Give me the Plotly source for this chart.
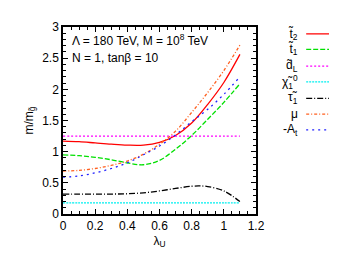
import plotly.graph_objects as go

lam = [0.0, 0.1, 0.2, 0.3, 0.4, 0.5, 0.6, 0.7, 0.8, 0.9, 1.0, 1.1]
stop2 = [1.17, 1.16, 1.14, 1.12, 1.105, 1.105, 1.15, 1.26, 1.46, 1.76, 2.11, 2.56]
stop1 = [0.95, 0.935, 0.91, 0.87, 0.82, 0.79, 0.86, 1.04, 1.26, 1.52, 1.79, 2.09]
dL = [1.25] * 12
chi1 = [0.18] * 12
mu = [0.69, 0.70, 0.73, 0.78, 0.85, 0.96, 1.12, 1.33, 1.63, 1.95, 2.30, 2.71]
mAt = [0.59, 0.61, 0.66, 0.73, 0.82, 0.95, 1.09, 1.27, 1.48, 1.68, 1.92, 2.20]
lam_tau = [0.0, 0.1, 0.2, 0.3, 0.4, 0.5, 0.6, 0.7, 0.8, 0.85, 0.9, 1.0, 1.1]
stau1 = [0.32, 0.32, 0.32, 0.32, 0.325, 0.34, 0.37, 0.41, 0.445, 0.45, 0.44, 0.37, 0.20]

labels = ["t̃<sub>2</sub>", "t̃<sub>1</sub>", "d̃<sub>L</sub>", "χ̃<sub>1</sub><sup>0</sup>",
          "τ̃<sub>1</sub>", "μ", "-A<sub>t</sub>"]

series = [
    (lam, stop2, "#ff0000", "solid"),
    (lam, stop1, "#00e000", "5px,2px"),
    (lam, dL, "#ff00ff", "2px,2px"),
    (lam, chi1, "#00f0f0", "2px,1px"),
    (lam_tau, stau1, "#000000", "6px,2px,1px,2px"),
    (lam, mu, "#ff6020", "3px,2px,1px,2px"),
    (lam, mAt, "#2020ff", "2px,4px"),
]

fig = go.Figure()
for (x, y, c, d), name in zip(series, labels):
    fig.add_trace(go.Scatter(x=x, y=y, mode="lines", name=name, showlegend=False,
                             line=dict(color=c, dash=d, width=1.3, shape="spline")))

font = dict(family="Liberation Sans, Arial, sans-serif", size=12, color="black")

leg_y = [0.963, 0.880, 0.791, 0.707, 0.618, 0.534, 0.450]
for (x, y, c, d), name, yy in zip(series, labels, leg_y):
    fig.add_annotation(text=name, xref="paper", yref="paper", x=1.23, y=yy,
                       xanchor="right", yanchor="middle", showarrow=False, font=font)
    fig.add_shape(type="line", xref="paper", yref="paper", x0=1.26, x1=1.43, y0=yy, y1=yy,
                  line=dict(color=c, dash=d, width=1.3))

fig.add_annotation(text="Λ = 180 TeV, M = 10<sup>8</sup> TeV", xref="paper", yref="paper",
                   x=0.035, y=0.93, xanchor="left", yanchor="middle", showarrow=False, font=font)
fig.add_annotation(text="N = 1, tanβ = 10", xref="paper", yref="paper",
                   x=0.035, y=0.835, xanchor="left", yanchor="middle", showarrow=False, font=font)

axis_common = dict(showline=True, linecolor="black", linewidth=1.5, mirror="ticks",
                   ticks="inside", ticklen=5, tickcolor="black", showgrid=False, zeroline=False,
                   tickfont=font)
fig.update_xaxes(range=[0, 1.2], dtick=0.2, tickangle=0,
                 minor=dict(dtick=0.05, ticks="inside", ticklen=3, tickcolor="black"),
                 title=dict(text="λ<sub>U</sub>", font=font, standoff=4), **axis_common)
fig.update_yaxes(range=[0, 3], dtick=0.5,
                 minor=dict(dtick=0.1, ticks="inside", ticklen=3, tickcolor="black"),
                 title=dict(text="m/m<sub>g̃</sub>", font=font, standoff=6), **axis_common)

fig.update_layout(width=337, height=253, margin=dict(l=55, r=89, t=15, b=47),
                  plot_bgcolor="white", paper_bgcolor="white", font=font)
fig.write_html("out.html")
